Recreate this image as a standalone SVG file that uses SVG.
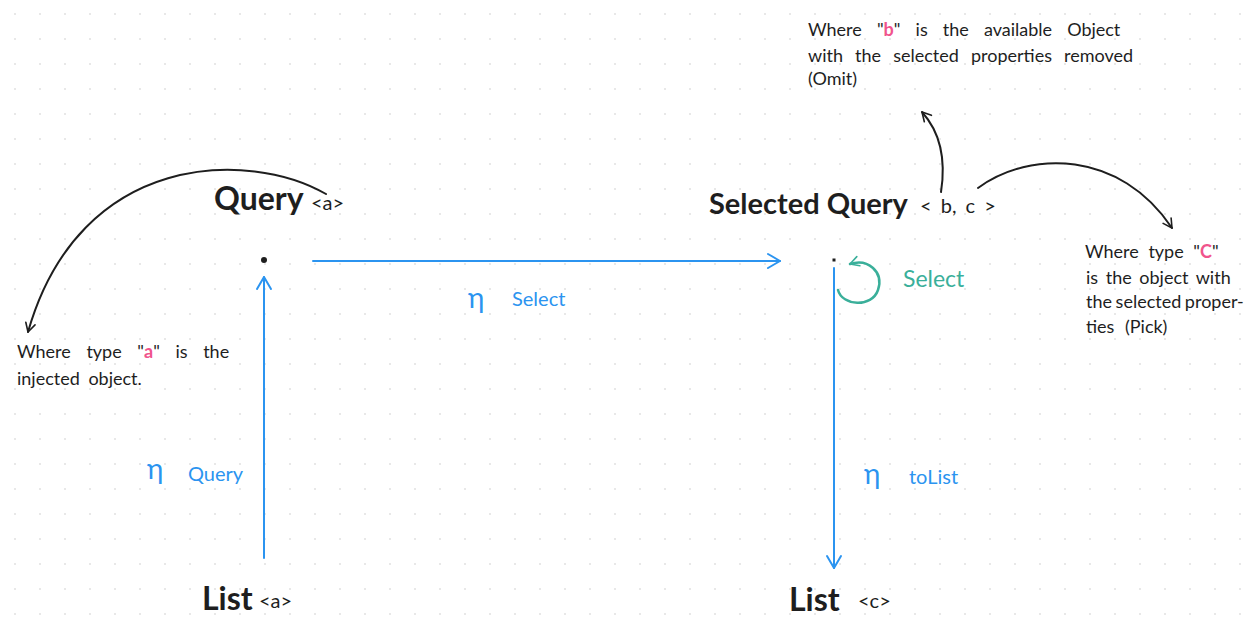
<svg xmlns="http://www.w3.org/2000/svg" width="1257" height="634" viewBox="0 0 1257 634">
  <defs>
    <pattern id="grid" patternUnits="userSpaceOnUse" x="0" y="0" width="25" height="25">
      <rect x="14.3" y="13.3" width="1.4" height="1.4" fill="#cfcfcf"/>
    </pattern>
    <marker id="hBlue" viewBox="0 0 20 20" refX="16" refY="10" markerWidth="20" markerHeight="20" markerUnits="userSpaceOnUse" orient="auto">
      <path d="M4,3 L16,10 L4,17" fill="none" stroke="#2b94f0" stroke-width="2" stroke-linecap="round" stroke-linejoin="round"/>
    </marker>
    <marker id="hBlack" viewBox="0 0 20 20" refX="16" refY="10" markerWidth="16" markerHeight="16" markerUnits="userSpaceOnUse" orient="auto">
      <path d="M5,4 L16,10 L5,16" fill="none" stroke="#1e1e1e" stroke-width="2" stroke-linecap="round" stroke-linejoin="round"/>
    </marker>
    <marker id="hTeal" viewBox="0 0 20 20" refX="16" refY="10" markerWidth="16" markerHeight="16" markerUnits="userSpaceOnUse" orient="auto">
      <path d="M5,4 L16,10 L5,16" fill="none" stroke="#3aaf9a" stroke-width="2" stroke-linecap="round" stroke-linejoin="round"/>
    </marker>
  </defs>
  <style>
    text { font-family: Lato, "Liberation Sans", sans-serif; fill: #1e1e1e; }
    .title { font-size: 32px; font-weight: 700; }
    .gen { font-size: 20px; }
    .note { font-size: 18px; }
    .blue { fill: #2b94f0; font-size: 20px; }
    .eta { fill: #2b94f0; font-size: 28px; }
    .teal { fill: #3aaf9a; font-size: 23px; }
    .pink { fill: #f0548c; font-weight: 700; }
    .cb { fill: none; stroke: #2b94f0; stroke-width: 2; stroke-linecap: round; }
    .ck { fill: none; stroke: #1e1e1e; stroke-width: 2; stroke-linecap: round; }
    .ct { fill: none; stroke: #3aaf9a; stroke-width: 2.5; stroke-linecap: round; }
  </style>
  <rect width="1257" height="634" fill="#ffffff"/>
  <rect width="1257" height="634" fill="url(#grid)"/>

  <g id="connectors">
    <path class="cb" d="M264,558 L264,277" marker-end="url(#hBlue)"/>
    <path class="cb" d="M313,261 L780,261" marker-end="url(#hBlue)"/>
    <path class="cb" d="M834,268 L834,568" marker-end="url(#hBlue)"/>
    <path class="ct" d="M838,290 C842,306 872,308 878,290 C884,272 868,258 850,264" marker-end="url(#hTeal)"/>
    <path class="ck" d="M326,194 C250,150 80,150 28,332" marker-end="url(#hBlack)"/>
    <path class="ck" d="M941,192 C946,160 940,132 922,112" marker-end="url(#hBlack)"/>
    <path class="ck" d="M978,188 C1030,150 1120,150 1172,228" marker-end="url(#hBlack)"/>
  </g>

  <g id="query">
    <text x="214" y="210" class="title">Query</text>
    <text x="311" y="210" class="gen">&lt;a&gt;</text>
    <circle cx="264" cy="260" r="3" fill="#1e1e1e"/>
  </g>

  <g id="selected-query">
    <text x="709" y="214" class="title" style="font-size:29px">Selected Query</text>
    <text x="920" y="213" class="gen" word-spacing="4">&lt; b, c &gt;</text>
    <rect x="832.5" y="258.5" width="3" height="3" fill="#1e1e1e"/>
  </g>

  <g id="list-a">
    <text x="202" y="610" class="title">List</text>
    <text x="259" y="608" class="gen">&lt;a&gt;</text>
  </g>

  <g id="list-c">
    <text x="789" y="611" class="title">List</text>
    <text x="858" y="608" class="gen">&lt;c&gt;</text>
  </g>

  <g id="label-select">
    <text x="468" y="308" class="eta">η</text>
    <text x="512" y="306" class="blue">Select</text>
  </g>
  <g id="label-query">
    <text x="147" y="479" class="eta">η</text>
    <text x="188" y="481" class="blue">Query</text>
  </g>
  <g id="label-tolist">
    <text x="864" y="484" class="eta">η</text>
    <text x="909" y="484" class="blue">toList</text>
  </g>
  <g id="label-select-loop">
    <text x="903" y="287" class="teal">Select</text>
  </g>

  <g id="note-a">
    <text x="17" y="358" class="note" word-spacing="11">Where type "<tspan class="pink">a</tspan>" is the</text>
    <text x="17" y="385" class="note" word-spacing="4">injected object.</text>
  </g>

  <g id="note-b">
    <text x="808" y="36" class="note" word-spacing="10.5">Where "<tspan class="pink">b</tspan>" is the available Object</text>
    <text x="808" y="62" class="note" word-spacing="7.5">with the selected properties removed</text>
    <text x="808" y="85" class="note">(Omit)</text>
  </g>

  <g id="note-c">
    <text x="1085" y="258" class="note" word-spacing="5">Where type "<tspan class="pink">C</tspan>"</text>
    <text x="1086" y="284" class="note" word-spacing="3">is the object with</text>
    <text x="1086" y="308" class="note" word-spacing="-1">the selected proper-</text>
    <text x="1086" y="333" class="note" word-spacing="6">ties (Pick)</text>
  </g>
</svg>
